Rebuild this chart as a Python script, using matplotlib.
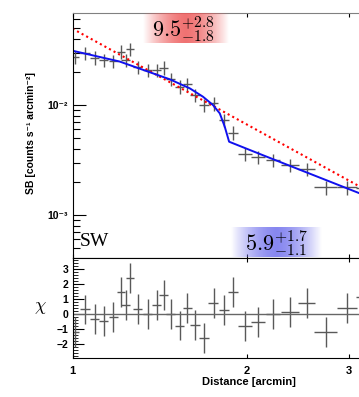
import numpy as np
import matplotlib
matplotlib.use("Agg")
import matplotlib.pyplot as plt
from matplotlib.ticker import FixedLocator, NullFormatter, NullLocator, MultipleLocator

plt.rcParams['mathtext.fontset'] = 'cm'
plt.rcParams['font.family'] = ['Liberation Sans', 'DejaVu Sans']

# surface brightness profile (SW sector)
distance = [1.008, 1.051, 1.092, 1.133, 1.175, 1.214, 1.235, 1.258, 1.296, 1.348,
            1.397, 1.437, 1.478, 1.531, 1.578, 1.626, 1.690, 1.752, 1.825, 1.893,
            1.985, 2.094, 2.221, 2.374, 2.537, 2.735, 2.983, 3.220]
dist_err = [0.018, 0.019, 0.020, 0.020, 0.021, 0.019, 0.020, 0.020, 0.023, 0.024,
            0.025, 0.026, 0.027, 0.027, 0.028, 0.032, 0.034, 0.035, 0.036, 0.038,
            0.055, 0.058, 0.062, 0.085, 0.081, 0.125, 0.119, 0.128]
sb = [0.02748, 0.02951, 0.02692, 0.02564, 0.02512, 0.03051, 0.02564, 0.03228, 0.02228, 0.02080,
      0.02080, 0.02183, 0.01714, 0.01467, 0.01542, 0.01233, 0.01000, 0.01036, 0.00731, 0.00562,
      0.00359, 0.00335, 0.00316, 0.00285, 0.00262, 0.00178, 0.00178, 0.00175]
sb_err = [0.0038, 0.0041, 0.0038, 0.0036, 0.0035, 0.0043, 0.0036, 0.0045, 0.0031, 0.0029,
          0.0029, 0.0031, 0.0024, 0.0021, 0.0022, 0.0017, 0.0014, 0.0015, 0.0010, 0.0008,
          0.0005, 0.00047, 0.00044, 0.0004, 0.00037, 0.00025, 0.00025, 0.00025]
chi = [-1.2, 0.31, -0.36, -0.47, -0.18, 1.5, 0.6, 2.44, 0.34, 0.0,
       0.6, 1.28, 0.0, -0.77, 0.38, -0.76, -1.63, 0.76, 0.25, 1.5,
       -0.8, -0.52, 0.0, 0.15, 0.76, -1.23, 0.42, 1.16]
chi_err = [1.0] * 28

# broken power-law model (blue) and single power-law (red dotted)
model_x = [1.0, 1.206, 1.472, 1.594, 1.680, 1.748, 1.796, 1.832, 1.864, 2.106, 3.133, 3.26]
model_y = [0.03115, 0.02485, 0.01713, 0.01418, 0.0119, 0.0100, 0.0084, 0.00635, 0.00464, 0.00359, 0.001575, 0.00145]
pl_x = [1.0, 3.26]
pl_y = [0.0494, 0.00162]

W, H = 359, 397
fig = plt.figure(figsize=(W / 100, H / 100), dpi=100)

def frac(x0, y0, x1, y1):
    # pixel box -> figure fraction [left, bottom, width, height]
    return [x0 / W, 1 - y1 / H, (x1 - x0) / W, (y1 - y0) / H]

xmax = 3.264
ax1 = fig.add_axes(frac(72.5, 13, 370, 258))
ax2 = fig.add_axes(frac(72.5, 258, 370, 358))

ecol = '0.35'
ax1.errorbar(distance, sb, xerr=dist_err, yerr=sb_err, fmt='none', ecolor=ecol, elinewidth=1, capsize=0)
ax1.plot(pl_x, pl_y, color='red', linestyle=(0, (1, 1.5)), linewidth=1.5)
ax1.plot(model_x, model_y, color='#1010ee', linewidth=1.4)
ax1.set_xscale('log')
ax1.set_yscale('log')
ax1.set_xlim(1.0, xmax)
ax1.set_ylim(4.07e-4, 0.0686)

ax2.errorbar(distance, chi, xerr=dist_err, yerr=chi_err, fmt='none', ecolor=ecol, elinewidth=1, capsize=0)
ax2.axhline(0, color='0.4', linewidth=1)
ax2.set_xscale('log')
ax2.set_xlim(1.0, xmax)
ax2.set_ylim(-2.95, 3.76)

for ax in (ax1, ax2):
    ax.spines['right'].set_visible(False)
    ax.xaxis.set_major_locator(FixedLocator([1, 2, 3]))
    ax.xaxis.set_minor_locator(NullLocator())
    ax.tick_params(axis='x', which='major', direction='in', top=True, bottom=True, length=3, width=0.8)
    ax.tick_params(axis='y', which='both', direction='in', right=False)
ax1.spines['top'].set_color('0.5')
ax1.xaxis.set_major_formatter(NullFormatter())

ax1.yaxis.set_major_locator(FixedLocator([1e-3, 1e-2]))
ax1.set_yticklabels(['10⁻³', '10⁻²'], fontsize=7.5, fontweight='bold')
ax1.yaxis.set_minor_locator(FixedLocator([k * 1e-4 for k in range(5, 10)] + [k * 1e-3 for k in range(2, 10)] + [k * 1e-2 for k in range(2, 7)]))
ax1.yaxis.set_minor_formatter(NullFormatter())
ax1.tick_params(axis='y', which='major', length=9, width=0.8, pad=3)
ax1.tick_params(axis='y', which='minor', length=5, width=0.8)

ax2.yaxis.set_major_locator(MultipleLocator(1))
ax2.yaxis.set_minor_locator(MultipleLocator(0.2))
ax2.set_yticks([-2, -1, 0, 1, 2, 3])
ax2.set_yticklabels(['−2', '−1', '0', '1', '2', '3'], fontsize=7.5, fontweight='bold')
ax2.tick_params(axis='y', which='major', length=8, width=0.8, pad=3)
ax2.tick_params(axis='y', which='minor', length=3.5, width=0.6)
ax2.set_xticklabels(['1', '2', '3'], fontsize=8, fontweight='bold')
ax2.tick_params(axis='x', pad=6)

fig.text(31 / W, 1 - 133 / H, 'SB [counts s⁻¹ arcmin⁻²]', rotation=90, ha='center', va='center',
         fontsize=7.5, fontweight='bold')
fig.text(40 / W, 1 - 307 / H, r'$\chi$', ha='center', va='center', fontsize=13)
fig.text(249 / W, 1 - 382 / H, 'Distance [arcmin]', ha='center', va='center', fontsize=8, fontweight='bold')
fig.text(80 / W, 1 - 241 / H, 'SW', ha='left', va='center', fontsize=14, family='Liberation Serif')

# gradient boxes behind the jump values
def glow(x0, y0, x1, y1, rgb, label, tx):
    bx = fig.add_axes(frac(x0, y0, x1, y1))
    t = np.linspace(-1, 1, 200)
    a = np.clip(1 - np.abs(t) ** 1.6, 0, 1) * 0.85
    img = np.zeros((1, 200, 4))
    img[0, :, :3] = rgb
    img[0, :, 3] = a
    bx.imshow(img, aspect='auto', extent=(0, 1, 0, 1))
    bx.set_xlim(0, 1)
    bx.set_ylim(0, 1)
    bx.axis('off')
    bx.text(tx, 0.45, label, ha='center', va='center', fontsize=16)

glow(143, 13, 229, 43, (0.93, 0.35, 0.35), r'$9.5^{+2.8}_{-1.8}$', 0.47)
glow(231, 227, 322, 257, (0.45, 0.45, 0.93), r'$5.9^{+1.7}_{-1.1}$', 0.5)

fig.savefig('out.png', dpi=100)
